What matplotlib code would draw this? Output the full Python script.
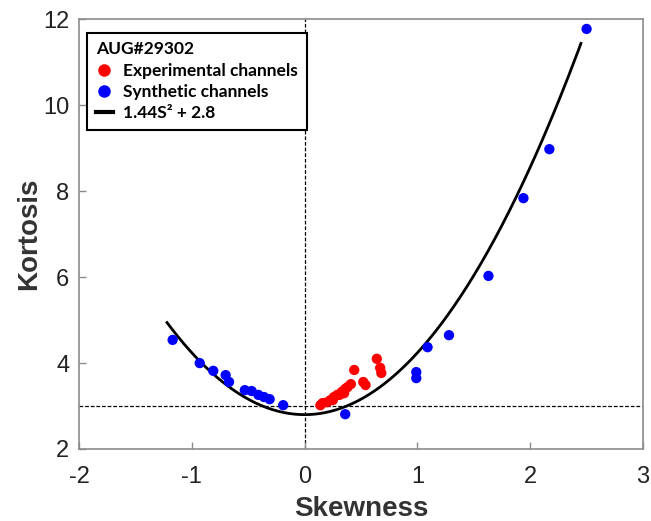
import numpy as np
import matplotlib
matplotlib.use('Agg')
import matplotlib.pyplot as plt
from matplotlib.lines import Line2D

plt.rcParams['font.family'] = ['Liberation Sans', 'DejaVu Sans']
plt.rcParams['axes.unicode_minus'] = False

# experimental channels (red)
exp_skew = [0.14, 0.16, 0.20, 0.23, 0.25, 0.26, 0.29, 0.31, 0.33, 0.35, 0.36,
            0.38, 0.41, 0.44, 0.52, 0.54, 0.64, 0.67, 0.68]
exp_kurt = [3.02, 3.07, 3.09, 3.14, 3.14, 3.21, 3.26, 3.26, 3.33, 3.30, 3.40,
            3.44, 3.51, 3.84, 3.56, 3.49, 4.10, 3.89, 3.77]

# synthetic channels (blue)
syn_skew = [-1.17, -0.93, -0.81, -0.70, -0.67, -0.53, -0.47, -0.41, -0.36,
            -0.31, -0.19, 0.36, 0.99, 0.99, 1.09, 1.28, 1.63, 1.94, 2.17, 2.50]
syn_kurt = [4.54, 4.00, 3.82, 3.72, 3.56, 3.37, 3.35, 3.26, 3.21,
            3.16, 3.02, 2.81, 3.79, 3.65, 4.37, 4.65, 6.03, 7.84, 8.98, 11.78]

fit_a = 1.44
fit_b = 2.8
fit_range = (-1.22, 2.45)

fig = plt.figure(figsize=(6.51, 5.21), dpi=100)
ax = fig.add_axes([0.1214, 0.1382, 0.8663, 0.8244])

s = np.linspace(fit_range[0], fit_range[1], 300)
ax.plot(s, fit_a * s**2 + fit_b, color='black', lw=2, zorder=2)
ax.axhline(3, color='black', lw=0.9, ls=(0, (3, 1.5)), zorder=1)
ax.axvline(0, color='black', lw=0.9, ls=(0, (3, 1.5)), zorder=1)

ax.scatter(exp_skew, exp_kurt, s=55, color='#ff0000', edgecolors='none', zorder=3)
ax.scatter(syn_skew, syn_kurt, s=55, color='#0000ff', edgecolors='none', zorder=3)

ax.set_xlim(-2, 3)
ax.set_ylim(2, 12)
ax.set_xticks([-2, -1, 0, 1, 2, 3])
ax.set_yticks([2, 4, 6, 8, 10, 12])
for sp in ax.spines.values():
    sp.set_color('#8c8c8c')
    sp.set_linewidth(1.2)
ax.tick_params(direction='in', color='#8c8c8c', length=5, width=1,
               labelsize=17, labelcolor='#222222')
ax.tick_params(axis='x', pad=12)
ax.tick_params(axis='y', pad=7)

ax.set_xlabel('Skewness', fontsize=20, fontweight='bold', color='#333333', labelpad=6)
ax.set_ylabel('Kortosis', fontsize=20, fontweight='bold', color='#333333', labelpad=1)

handles = [
    Line2D([], [], ls='none', marker='o', ms=8, color='#ff0000'),
    Line2D([], [], ls='none', marker='o', ms=8, color='#0000ff'),
    Line2D([], [], color='black', lw=3),
]
labels = ['Experimental channels', 'Synthetic channels', '1.44S² + 2.8']
leg = ax.legend(handles, labels, title='AUG#29302', loc='upper left',
                bbox_to_anchor=(0.014, 0.969), borderaxespad=0, alignment='left',
                prop={'family': ['Lato', 'DejaVu Sans'], 'weight': 'bold', 'size': 12.5},
                title_fontproperties={'family': ['Lato', 'DejaVu Sans'], 'weight': 'bold', 'size': 12.5},
                handlelength=1.0, handletextpad=0.6, labelspacing=0.3,
                borderpad=0.5, fancybox=False, framealpha=1)
leg.get_frame().set_edgecolor('black')
leg.get_frame().set_linewidth(1.5)

fig.savefig('out.png', dpi=100)
